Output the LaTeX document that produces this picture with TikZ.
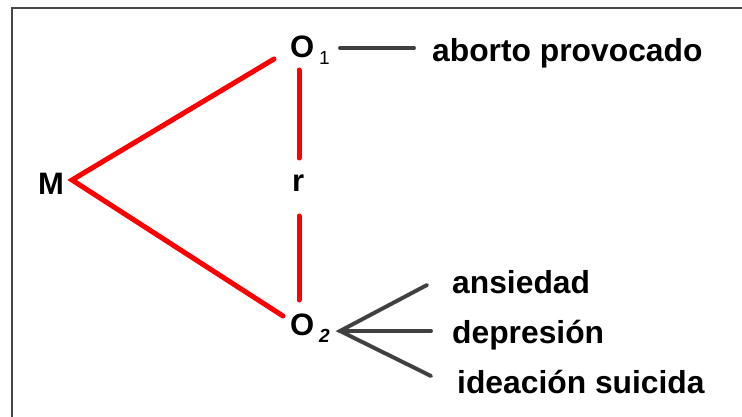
\documentclass[tikz,border=0pt]{standalone}
\usepackage{fontspec}
\setmainfont{Liberation Sans}
\begin{document}
\begin{tikzpicture}[x=1pt,y=-1pt,
  lbl/.style={font=\fontsize{31.8}{32}\selectfont\bfseries,inner sep=0pt,anchor=base west},
  big/.style={font=\fontsize{31}{31}\selectfont\bfseries,inner sep=0pt,anchor=base west},
  sub/.style={font=\fontsize{19}{19}\selectfont,inner sep=0pt,anchor=base west},
  redline/.style={draw=red,line width=5pt,line cap=round},
  darkline/.style={draw=black!75,line width=3.8pt,line cap=round},
  shadowline/.style={draw=black!13,line width=4.5pt,line cap=round},
  frame/.style={draw=black!72,line width=2.5pt}]
\useasboundingbox (0,0) rectangle (742,417);
% frame
\draw[frame] (12,430) -- (12,8) -- (760,8);
% text nodes
\node[big] (M) at (38,194) {M};
\node[big] (O1) at (290,58) {O};
\node[sub] (s1) at (319,65) {1};
\node[big] (O2) at (290,335) {O};
\node[sub,font=\fontsize{19}{19}\selectfont\bfseries\itshape] (s2) at (319,342) {2};
\node[big] (r) at (292,192) {r};
\node[lbl] (t1) at (432,62) {aborto provocado};
\node[lbl] (t2) at (452,293) {ansiedad};
\node[lbl] (t3) at (452,343) {depresión};
\node[lbl] (t4) at (457,393) {ideación suicida};
% coordinates
\coordinate (v) at (72,180);
\coordinate (a1) at (274,59);
\coordinate (a2) at (283,316);
\coordinate (r1) at (299,70);
\coordinate (r2) at (299,158);
\coordinate (r3) at (299,216);
\coordinate (r4) at (299,300);
\coordinate (l1a) at (340,48);
\coordinate (l1b) at (414,48);
\coordinate (ap) at (340,331);
\coordinate (b1) at (427,285);
\coordinate (b2) at (431,331);
\coordinate (b3) at (431,376);
% shadows
\begin{scope}[shift={(3,3)}]
\draw[shadowline] (a1) -- (v) -- (a2);
\draw[shadowline] (r1) -- (r2);
\draw[shadowline] (r3) -- (r4);
\draw[shadowline] (l1a) -- (l1b);
\draw[shadowline] (b1) -- (ap) -- (b3);
\draw[shadowline] (ap) -- (b2);
\end{scope}
% red lines
\draw[redline,line join=miter] (a1) -- (v) -- (a2);
\draw[redline] (r1) -- (r2);
\draw[redline] (r3) -- (r4);
% dark lines
\draw[darkline] (l1a) -- (l1b);
\draw[darkline,line join=miter] (b1) -- (ap) -- (b3);
\draw[darkline] (ap) -- (b2);
\end{tikzpicture}
\end{document}
